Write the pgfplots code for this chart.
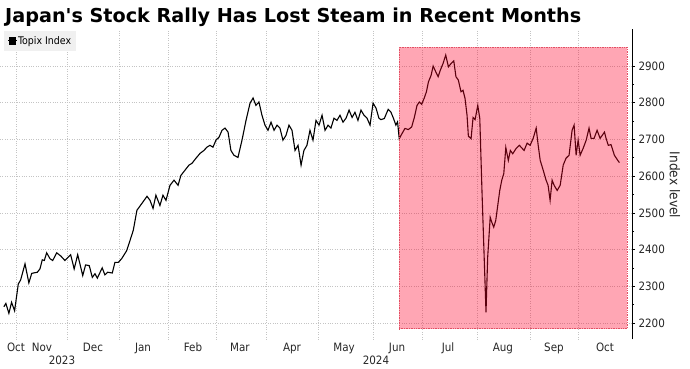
\documentclass[border=0pt]{standalone}
\usepackage{fontspec}
\setmainfont{DejaVu Sans Condensed}
\newfontfamily\titlefont{DejaVu Sans}[Ligatures=TeXOff]
\usepackage{pgfplots}
\pgfplotsset{compat=1.18}
\definecolor{gridc}{RGB}{196,196,196}
\definecolor{pinkfill}{RGB}{255,0,40}
\definecolor{pinkedge}{RGB}{225,80,100}
\definecolor{legbg}{RGB}{240,240,240}
\newcommand{\fs}[1]{\fontsize{#1bp}{#1bp}\selectfont}
\begin{document}
\begin{tikzpicture}
\useasboundingbox (0,-29.6bp) rectangle (690bp,339.4bp);
\begin{axis}[
  at={(0,0)}, anchor=south west,
  scale only axis, width=632bp, height=310bp,
  xmin=21.5, xmax=398.1, ymin=2155, ymax=3000,
  axis y line*=right, axis x line*=bottom,
  x axis line style={draw=none},
  y axis line style={black, line width=0.8bp},
  ytick={2200,2300,...,2900},
  minor y tick num=1,
  ymajorgrids, xmajorgrids,
  grid style={gridc, dotted, line width=0.6bp},
  xtick={31,61.8,92.3,121.5,150.2,180,211,243.8,273,305.8,337.4,366},
  xticklabels={},
  extra x ticks={31,46.5,76.9,106.7,136.5,164.5,195.5,226.5,258.1,288.5,321.2,351.6,382},
  extra x tick labels={Oct,Nov,Dec,Jan,Feb,Mar,Apr,May,Jun,Jul,Aug,Sep,Oct},
  extra x tick style={grid=none, major tick length=0pt},
  xtick style={draw=none},
  ytick style={black, line width=0.6bp},
  major tick length=3bp, minor tick length=2bp,
  tick align=outside,
  ticklabel style={font=\fs{11.5}, text=black!85},
  /pgf/number format/assume math mode=true,
  /pgf/number format/1000 sep={},
  legend style={at={(axis description cs:0.0063,0.997)}, anchor=north west,
    draw=none, fill=legbg, font=\fs{10.5}, inner xsep=3.5bp, inner ysep=4.5bp,
    nodes={inner sep=1bp}},
  legend image code/.code={\fill[black] (1bp,-3.2bp) rectangle (7.4bp,3.2bp); \path (0bp,0bp) -- (8.4bp,0bp);},
]
\addplot[black, line width=1.1bp] table[row sep=\\] {
x y \\
23.8 2244 \\ 25.0 2253 \\ 26.8 2226 \\ 28.4 2256 \\ 30.2 2233 \\ 32.4 2306 \\
33.8 2317 \\ 36.4 2361 \\ 38.7 2309 \\ 40.4 2335 \\ 43.7 2338 \\ 45.3 2347 \\
46.7 2372 \\ 47.9 2370 \\ 49.3 2391 \\ 51.3 2375 \\ 52.9 2370 \\ 55.3 2391 \\
57.8 2382 \\ 60.2 2370 \\ 63.6 2386 \\ 65.7 2347 \\ 67.8 2386 \\ 70.8 2329 \\
72.5 2358 \\ 74.7 2356 \\ 76.5 2324 \\ 78.1 2334 \\ 79.5 2322 \\ 82.4 2350 \\
84.0 2331 \\ 85.7 2338 \\ 88.4 2336 \\ 90.0 2365 \\ 92.0 2365 \\ 94.0 2375 \\
97.0 2397 \\ 99.0 2425 \\ 100.9 2452 \\ 103.1 2507 \\ 106.1 2526 \\ 109.1 2545 \\
110.9 2534 \\ 112.7 2512 \\ 114.4 2548 \\ 116.8 2520 \\ 118.6 2548 \\ 120.4 2534 \\
122.8 2575 \\ 125.2 2589 \\ 127.6 2575 \\ 129.3 2602 \\ 131.7 2616 \\ 134.1 2630 \\
135.9 2635 \\ 138.3 2649 \\ 140.7 2662 \\ 143.0 2670 \\ 144.8 2679 \\ 146.6 2684 \\
148.4 2679 \\ 150.2 2698 \\ 152.0 2706 \\ 153.8 2725 \\ 155.6 2731 \\ 157.4 2720 \\
159.1 2670 \\ 160.9 2657 \\ 163.3 2651 \\ 165.7 2698 \\ 168.1 2752 \\ 170.5 2799 \\
172.3 2813 \\ 174.0 2793 \\ 175.8 2802 \\ 177.6 2766 \\ 179.4 2739 \\ 181.2 2725 \\
183.0 2747 \\ 184.8 2725 \\ 186.6 2739 \\ 188.3 2731 \\ 190.1 2698 \\ 191.9 2711 \\
193.7 2739 \\ 195.5 2725 \\ 197.3 2670 \\ 199.1 2684 \\ 200.9 2630 \\ 202.6 2670 \\
204.4 2684 \\ 206.2 2725 \\ 208.0 2698 \\ 209.8 2752 \\ 211.6 2739 \\ 213.4 2766 \\
215.2 2725 \\ 217.0 2739 \\ 218.7 2731 \\ 220.5 2758 \\ 222.3 2752 \\ 224.1 2766 \\
225.9 2747 \\ 227.7 2758 \\ 229.5 2780 \\ 231.3 2760 \\ 233.0 2774 \\ 234.8 2752 \\
236.6 2780 \\ 238.4 2766 \\ 240.2 2758 \\ 242.0 2739 \\ 243.8 2799 \\ 245.6 2785 \\
247.3 2758 \\ 248.5 2754 \\ 250.5 2757 \\ 252.8 2782 \\ 254.4 2775 \\ 256.0 2757 \\
257.4 2739 \\ 258.4 2748 \\ 259.4 2702 \\ 260.8 2714 \\ 262.8 2730 \\ 264.8 2727 \\
266.8 2734 \\ 268.4 2760 \\ 270.0 2793 \\ 271.4 2802 \\ 272.8 2796 \\ 274.4 2814 \\
275.6 2830 \\ 276.8 2857 \\ 278.4 2875 \\ 279.6 2900 \\ 281.2 2884 \\ 282.6 2871 \\
283.9 2889 \\ 285.5 2907 \\ 287.1 2930 \\ 288.7 2898 \\ 290.3 2907 \\ 291.9 2914 \\
293.2 2871 \\ 294.6 2862 \\ 296.2 2830 \\ 297.4 2834 \\ 298.6 2812 \\ 299.8 2766 \\
300.6 2709 \\ 302.2 2702 \\ 303.4 2760 \\ 304.6 2754 \\ 306.2 2793 \\ 307.4 2757 \\
308.7 2560 \\ 311.1 2229 \\ 312.1 2379 \\ 313.6 2488 \\ 314.5 2475 \\ 315.7 2461 \\
316.9 2479 \\ 318.1 2520 \\ 319.3 2561 \\ 320.5 2589 \\ 321.7 2607 \\ 322.9 2678 \\
324.4 2643 \\ 325.6 2670 \\ 327.0 2661 \\ 329.0 2675 \\ 331.0 2684 \\ 332.0 2679 \\
333.8 2670 \\ 335.6 2690 \\ 337.4 2684 \\ 339.2 2703 \\ 341.0 2731 \\ 342.2 2684 \\
343.4 2643 \\ 345.2 2616 \\ 346.9 2589 \\ 348.1 2575 \\ 349.3 2534 \\ 350.5 2589 \\
351.7 2575 \\ 353.5 2561 \\ 355.3 2575 \\ 357.1 2630 \\ 358.8 2649 \\ 360.6 2657 \\
362.4 2725 \\ 363.6 2739 \\ 364.8 2657 \\ 366.0 2698 \\ 367.2 2657 \\ 369.0 2676 \\
370.8 2698 \\ 372.5 2731 \\ 373.7 2703 \\ 375.5 2703 \\ 377.3 2725 \\ 379.1 2703 \\
381.7 2720 \\ 382.7 2702 \\ 384.0 2684 \\ 385.6 2686 \\ 387.6 2657 \\ 389.6 2643 \\
390.6 2637 \\
};
\addlegendentry{Topix Index}
\addplot[draw=pinkedge, densely dotted, line width=0.7bp, fill=pinkfill, fill opacity=0.35, forget plot]
  coordinates {(259.2,2184) (395.1,2184) (395.1,2952) (259.2,2952)} -- cycle;
\end{axis}
\node[anchor=base west, inner sep=0pt, font=\titlefont\bfseries\fs{19.2}] at (5bp,316.7bp) {Japan's Stock Rally Has Lost Steam in Recent Months};
\node[font=\fs{11.5}, text=black!85] at (62bp,-21.1bp) {2023};
\node[font=\fs{11.5}, text=black!85] at (376bp,-21.1bp) {2024};
\node[font=\fs{13.5}, text=black!85, rotate=-90] at (675bp,154.4bp) {Index level};
\end{tikzpicture}
\end{document}
